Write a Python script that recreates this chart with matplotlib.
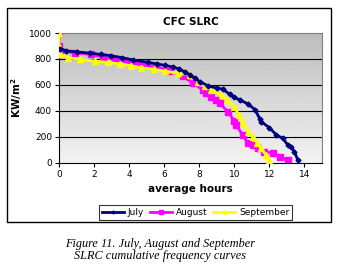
import numpy as np
import matplotlib.pyplot as plt
from matplotlib.patches import Rectangle

# July / August / September SLRC cumulative frequency curves
july_x = [0.05, 0.42, 1.0, 1.75, 2.4, 2.98, 3.6, 4.2, 5.1, 5.6, 6.06, 6.5, 6.82, 7.2, 7.45, 7.75,
          8.02, 8.5, 9.0, 9.35, 9.73, 10.0, 10.3, 10.77, 11.2, 11.44, 11.53, 12.0, 12.4, 12.76,
          13.05, 13.24, 13.43, 13.62]
july_y = [880, 863, 855, 845, 835, 825, 810, 793, 773, 762, 750, 738, 724, 700, 678, 652,
          626, 593, 575, 567, 528, 505, 485, 454, 407, 340, 317, 270, 214, 188,
          137, 124, 85, 21]

aug_x = [0, 0, 0.05, 0.9, 1.85, 2.5, 3.17, 3.8, 4.41, 5.0, 5.55, 6.3, 7.07, 7.64, 8.2, 8.4,
         8.68, 8.97, 9.16, 9.63, 10.0, 10.1, 10.48, 10.77, 11.05, 11.34, 11.72, 12.2, 12.58, 13.05]
aug_y = [1000, 900, 860, 848, 835, 815, 796, 783, 770, 753, 740, 707, 666, 613, 562, 536,
         510, 485, 459, 394, 320, 291, 214, 150, 137, 111, 85, 73, 46, 18]

sep_x = [0, 0, 0.05, 0.51, 1.2, 2.03, 2.8, 3.46, 4.1, 4.7, 5.4, 6.02, 6.8, 7.45, 7.92, 8.3,
         8.68, 9.3, 9.6, 10.0, 10.25, 10.48, 10.8, 11.05, 11.3, 11.53, 11.8, 12.0]
sep_y = [1000, 900, 840, 809, 797, 784, 773, 763, 748, 732, 720, 706, 690, 678, 626, 594,
         562, 520, 480, 433, 370, 304, 240, 201, 150, 111, 60, 21]

xticks = [0, 2, 4, 6, 8, 10, 12, 14]
yticks = [0, 200, 400, 600, 800, 1000]

fig = plt.figure(figsize=(3.38, 2.73), dpi=100)
ax = fig.add_axes([0.1746, 0.404, 0.778, 0.475])

# gradient plot background, darker on top
grad = np.linspace(0.95, 0.74, 100).reshape(-1, 1)
ax.imshow(grad, cmap='gray', vmin=0, vmax=1, extent=[0, 15, 0, 1000],
          aspect='auto', origin='lower', zorder=0)

for v in yticks[1:-1]:
    ax.axhline(v, color='k', lw=0.8, zorder=1)

ax.plot(july_x, july_y, color='#000080', lw=2, marker='D', ms=2.5, label='July', zorder=4)
ax.plot(aug_x, aug_y, color='#ff00ff', lw=2, marker='s', ms=4, label='August', zorder=2)
ax.plot(sep_x, sep_y, color='#ffff00', lw=2, marker='^', ms=4, label='September', zorder=3)

ax.set_xlim(0, 15)
ax.set_ylim(0, 1000)
ax.set_xticks(xticks)
ax.set_yticks(yticks)
ax.tick_params(labelsize=6.5, length=3, width=0.8, pad=2)
for s in ['top', 'right']:
    ax.spines[s].set_color('#808080')
for s in ['left', 'bottom']:
    ax.spines[s].set_color('k')

ax.set_title('CFC SLRC', fontsize=7.5, fontweight='bold', pad=6)
ax.set_xlabel('average hours', fontsize=7.5, fontweight='bold', labelpad=4)
ax.set_ylabel('KW/m$^\\mathbf{2}$', fontsize=7.5, fontweight='bold', labelpad=4)

leg = ax.legend(loc='center', bbox_to_anchor=(195.5 / 338, 1 - 212.5 / 273),
                bbox_transform=fig.transFigure, ncol=3, fontsize=6.5, frameon=True,
                fancybox=False, edgecolor='k', handlelength=2.5, handletextpad=0.4,
                columnspacing=0.6, borderpad=0.3, markerscale=0.6)
leg.get_frame().set_linewidth(0.8)

# chart border
fig.patches.append(Rectangle((7 / 338, 1 - 222 / 273), 324 / 338, 214 / 273,
                             transform=fig.transFigure, fill=False, ec='k', lw=1))

fig.text(160 / 338, 1 - 243.5 / 273, 'Figure 11. July, August and September',
         ha='center', va='center', fontsize=8.8, style='italic', family='Liberation Serif')
fig.text(160 / 338, 1 - 256 / 273, 'SLRC cumulative frequency curves',
         ha='center', va='center', fontsize=8.8, style='italic', family='Liberation Serif')

fig.savefig('out.png', dpi=100)
